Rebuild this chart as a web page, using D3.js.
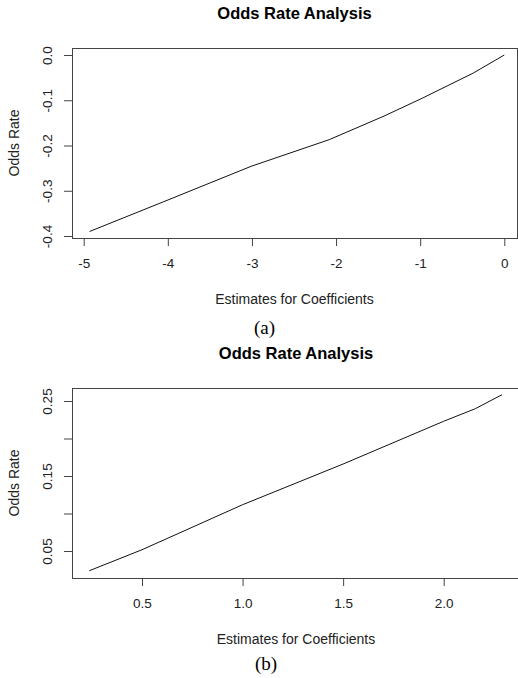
<!DOCTYPE html>
<html>
<head>
<meta charset="utf-8" />
<title>Odds Rate Analysis</title>
<script src="https://cdn.jsdelivr.net/npm/d3@7"></script>
<style>
  body { margin: 0; background: #fff; }
  svg { display: block; font-family: "Liberation Sans", Arial, sans-serif; }
  .tick text { font-size: 13.5px; fill: #222; }
  .tick line { stroke: #444; }
</style>
</head>
<body>
<div id="chart"></div>
<script>
// panel (a)
var coefA = [-4.93, -4.06, -3.01, -2.08, -1.43, -0.97, -0.37, 0];
var oddsA = [-0.390, -0.325, -0.246, -0.187, -0.135, -0.095, -0.040, 0];
var xTicksA = [-5, -4, -3, -2, -1, 0];
var xLabelsA = ["-5", "-4", "-3", "-2", "-1", "0"];
var yTicksA = [0, -0.1, -0.2, -0.3, -0.4];
var yLabelsA = ["0.0", "-0.1", "-0.2", "-0.3", "-0.4"];

// panel (b)
var coefB = [0.238, 0.5, 1.0, 1.5, 2.0, 2.157, 2.29];
var oddsB = [0.0237, 0.0517, 0.1117, 0.166, 0.223, 0.2397, 0.2584];
var xTicksB = [0.5, 1.0, 1.5, 2.0];
var xLabelsB = ["0.5", "1.0", "1.5", "2.0"];
var yTicksB = [0.05, 0.10, 0.15, 0.20, 0.25];
var yLabelsB = ["0.05", "", "0.15", "", "0.25"];

var W = 518, H = 678;
var svg = d3.select("#chart").append("svg")
    .attr("width", W)
    .attr("height", H);

function drawPanel(opt) {
    var box = opt.box;
    var x = d3.scaleLinear().domain(opt.xDom).range(opt.xRange);
    var y = d3.scaleLinear().domain(opt.yDom).range(opt.yRange);

    var g = svg.append("g");

    // title
    g.append("text")
        .attr("x", (box.left + box.right) / 2)
        .attr("y", box.top - 29)
        .attr("text-anchor", "middle")
        .style("font-size", "16.5px")
        .style("font-weight", "bold")
        .attr("fill", "#000")
        .text("Odds Rate Analysis");

    // x axis
    var xAxis = d3.axisBottom(x)
        .tickValues(opt.xTicks)
        .tickSize(8)
        .tickPadding(12)
        .tickFormat(function (d, i) { return opt.xLabels[i]; });
    g.append("g")
        .attr("transform", "translate(0," + box.bottom + ")")
        .call(xAxis)
        .call(function (a) { a.select(".domain").remove(); });

    // y axis, labels parallel to axis like R
    var yAxis = d3.axisLeft(y)
        .tickValues(opt.yTicks)
        .tickSize(8)
        .tickFormat(function (d, i) { return opt.yLabels[i]; });
    g.append("g")
        .attr("transform", "translate(" + box.left + ",0)")
        .call(yAxis)
        .call(function (a) { a.select(".domain").remove(); })
        .selectAll("text")
        .attr("x", 0)
        .attr("y", 0)
        .attr("dy", 0)
        .attr("text-anchor", "middle")
        .attr("transform", "translate(-20,0) rotate(-90)");

    // plot box
    g.append("rect")
        .attr("x", box.left + 0.5)
        .attr("y", box.top + 0.5)
        .attr("width", box.right - box.left)
        .attr("height", box.bottom - box.top)
        .attr("fill", "none")
        .attr("stroke", "#444")
        .attr("stroke-width", 1);

    // line
    var pts = opt.xs.map(function (v, i) { return [v, opt.ys[i]]; });
    g.append("path")
        .datum(pts)
        .attr("fill", "none")
        .attr("stroke", "#111")
        .attr("stroke-width", 1)
        .attr("d", d3.line()
            .x(function (d) { return x(d[0]); })
            .y(function (d) { return y(d[1]); }));

    // axis titles
    g.append("text")
        .attr("x", (box.left + box.right) / 2)
        .attr("y", box.bottom + 66)
        .attr("text-anchor", "middle")
        .style("font-size", "14px")
        .attr("fill", "#222")
        .text("Estimates for Coefficients");

    g.append("text")
        .attr("transform", "translate(19," + ((box.top + box.bottom) / 2) + ") rotate(-90)")
        .attr("text-anchor", "middle")
        .style("font-size", "14px")
        .attr("fill", "#222")
        .text("Odds Rate");

    // caption
    g.append("text")
        .attr("x", (box.left + box.right) / 2 - 30)
        .attr("y", opt.capY)
        .attr("text-anchor", "middle")
        .style("font-family", "'Liberation Serif', 'Times New Roman', serif")
        .style("font-size", "19px")
        .attr("fill", "#000")
        .text(opt.caption);
}

drawPanel({
    box: {left: 72, right: 517, top: 48, bottom: 238},
    xDom: [-5, 0], xRange: [83.7, 504.3],
    yDom: [-0.4, 0], yRange: [236, 55],
    xTicks: xTicksA, xLabels: xLabelsA,
    yTicks: yTicksA, yLabels: yLabelsA,
    xs: coefA, ys: oddsA,
    caption: "(a)", capY: 334
});

drawPanel({
    box: {left: 72, right: 520, top: 388, bottom: 578},
    xDom: [0.5, 2.0], xRange: [142, 443.7],
    yDom: [0.05, 0.25], yRange: [551, 401],
    xTicks: xTicksB, xLabels: xLabelsB,
    yTicks: yTicksB, yLabels: yLabelsB,
    xs: coefB, ys: oddsB,
    caption: "(b)", capY: 670
});
</script>
</body>
</html>
